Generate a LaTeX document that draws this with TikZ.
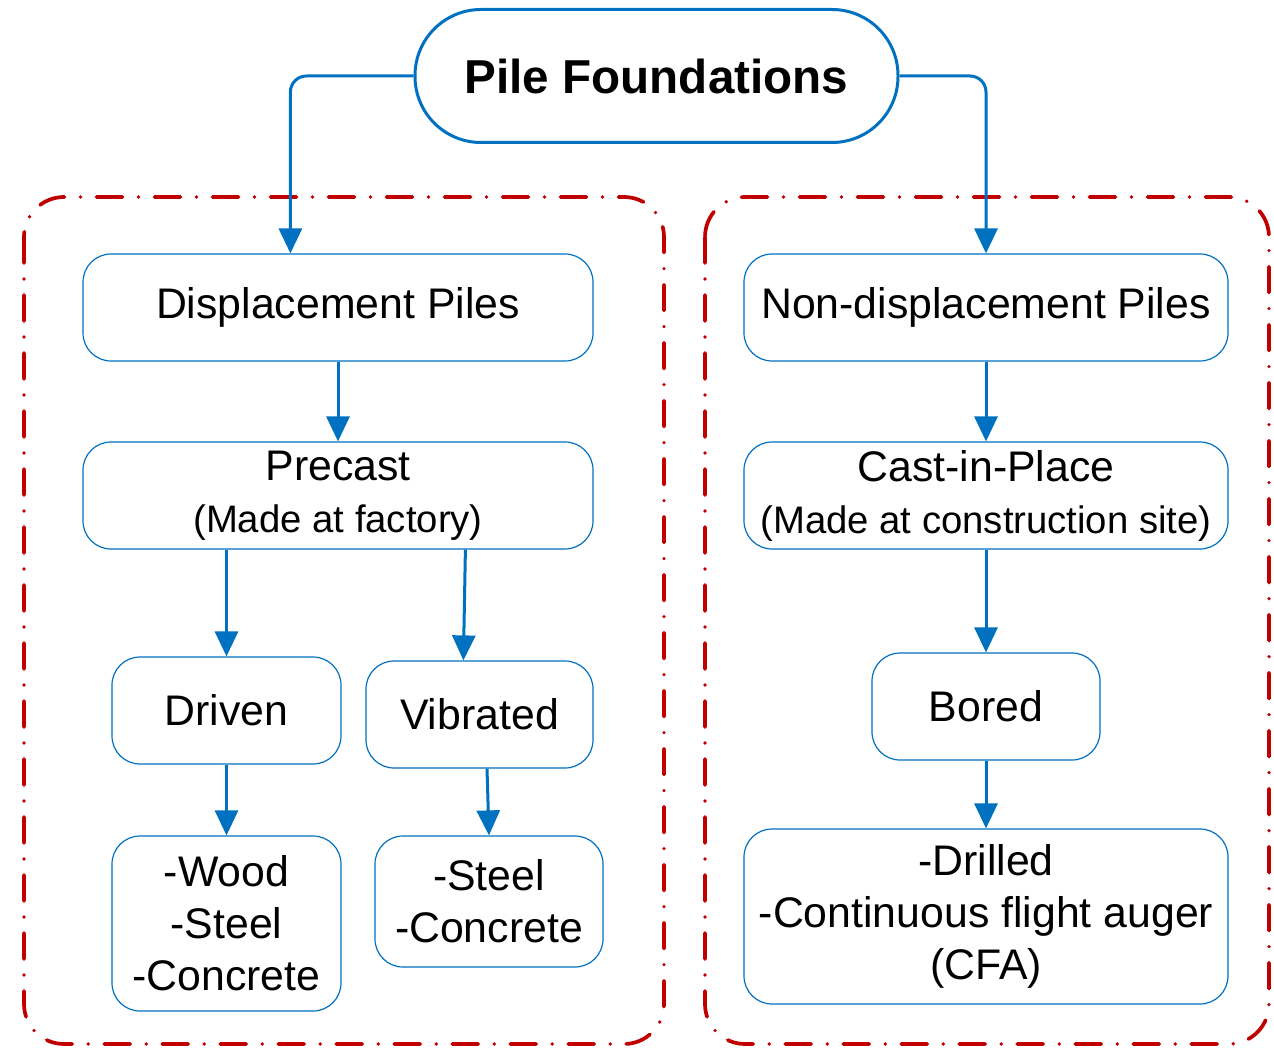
\documentclass[tikz,border=0pt]{standalone}
\usepackage{fontspec}
\setmainfont{Liberation Sans}
\usetikzlibrary{arrows.meta,calc}
\definecolor{bl}{HTML}{0070C0}
\definecolor{rd}{HTML}{C00000}
\begin{document}
\begin{tikzpicture}[x=1pt,y=-1pt,
  box/.style={draw=bl, line width=1.2pt, rounded corners=28pt, inner sep=0pt, align=center, font=\fontsize{42.8}{52}\selectfont},
  arr/.style={draw=bl, line width=3pt, -{Triangle[length=25pt,width=23pt]}},
  grp/.style={draw=rd, line width=3.7pt, line cap=round, dash pattern=on 26pt off 16pt on 0pt off 16pt, rounded corners=40pt}]
\useasboundingbox (0,0) rectangle (1274,1048);
% groups
\draw[grp] (24,197) rectangle (664,1044);
\draw[grp] (705,197) rectangle (1269,1044);
% top
\node[draw=bl, line width=3pt, rounded corners=66pt, minimum width=483pt, minimum height=133pt, inner sep=0pt,
  font=\bfseries\fontsize{47.6}{56}\selectfont] (top) at (656.5,76) {Pile Foundations};
% left column
\node[box, minimum width=510pt, minimum height=107pt] (disp) at (338,307.5) {Displacement Piles};
\node[box, minimum width=510pt, minimum height=107pt] (prec) at (338,495.5) {Precast\\\fontsize{38.3}{52}\selectfont(Made at factory)};
\node[box, minimum width=229pt, minimum height=107pt] (driv) at (226.5,710.5) {Driven};
\node[box, minimum width=227pt, minimum height=107pt] (vib) at (479.5,714.5) {Vibrated};
\node[box, minimum width=229pt, minimum height=175pt] (wood) at (226.5,923.5) {-Wood\\-Steel\\-Concrete};
\node[box, minimum width=228pt, minimum height=131pt] (stc) at (489,901.5) {-Steel\\-Concrete};
% right column
\node[box, minimum width=484pt, minimum height=107pt] (nond) at (986,307.5) {Non-displacement Piles};
\node[box, minimum width=484pt, minimum height=107pt] (cast) at (986,495.5) {Cast-in-Place\\\fontsize{38.3}{50}\selectfont(Made at construction site)};
\node[box, minimum width=228pt, minimum height=107pt] (bore) at (986,706.5) {Bored};
\node[box, minimum width=484pt, minimum height=175pt] (dril) at (986,916.5) {-Drilled\\-Continuous flight auger\\(CFA)};
% connectors
\draw[arr, rounded corners=16pt] (top.west) -| ($(disp.north west)+(208,0)$);
\draw[arr, rounded corners=16pt] (top.east) -| (nond.north);
\draw[arr] (disp.south) -- (prec.north);
\draw[arr] (prec.south -| driv.north) -- (driv.north);
\draw[arr] ($(prec.south west)+(383,0)$) -- ($(vib.north west)+(98,0)$);
\draw[arr] (driv.south) -- (wood.north);
\draw[arr] ($(vib.south)+(7.5,0)$) -- (stc.north);
\draw[arr] (nond.south) -- (cast.north);
\draw[arr] (cast.south) -- (bore.north);
\draw[arr] (bore.south) -- (dril.north);
\end{tikzpicture}
\end{document}
